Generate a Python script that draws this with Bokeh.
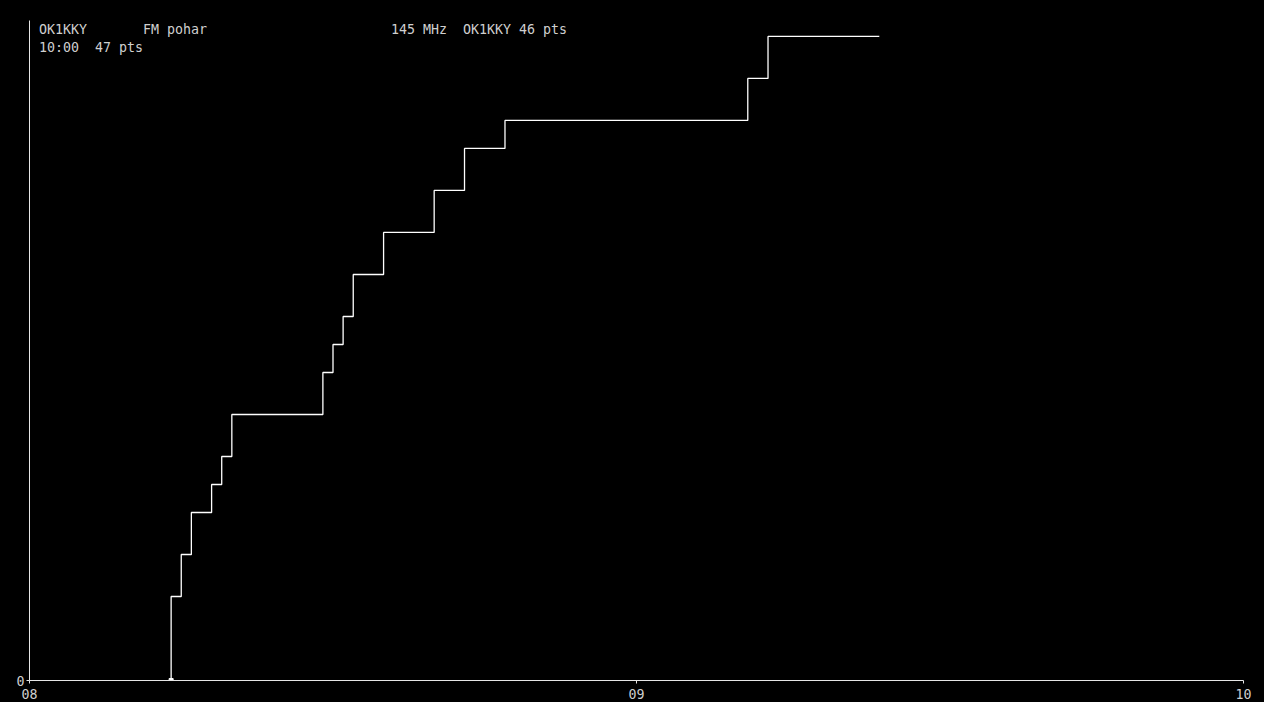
from bokeh.plotting import figure
from bokeh.models import Range1d, FixedTicker, ColumnDataSource
from bokeh.core.properties import value
from bokeh.embed import file_html
from bokeh.resources import INLINE

# QSO log: time of each contact and cumulative score after it
qso_times = ["08:14", "08:15", "08:16", "08:18", "08:19", "08:20", "08:29", "08:30",
             "08:31", "08:32", "08:35", "08:40", "08:43", "08:47", "09:11", "09:13", "09:24"]
qso_points = [6, 9, 12, 14, 16, 19, 22, 24, 26, 29, 32, 35, 38, 40, 43, 46, 46]

x_ticks = [8, 9, 10]
x_tick_labels = ["08", "09", "10"]
y_ticks = [0]

# header texts (text, column in characters)
header_line1 = [("OK1KKY", 0), ("FM pohar", 13), ("145 MHz", 44), ("OK1KKY 46 pts", 53)]
header_line2 = [("10:00", 0), ("47 pts", 7)]

FONT = "DejaVu Sans Mono"
FS = "13.3px"
TXT = "#cfcfcf"
AX = "#e6e6e6"
Y_TOP = 47.14


def to_hours(t):
    h, m = t.split(":")
    return int(h) + int(m) / 60.0


xs = [to_hours(t) for t in qso_times]
step_x = [xs[0]] + xs
step_y = [0] + qso_points

p = figure(width=1264, height=702, x_range=Range1d(8, 10), y_range=Range1d(0, Y_TOP),
           output_backend="svg", toolbar_location=None,
           background_fill_color="black", border_fill_color="black",
           min_border_left=29, min_border_right=21, min_border_top=20, min_border_bottom=22)
p.styles = {"background-color": "black"}
p.outline_line_color = "black"
p.outline_line_width = 2
p.grid.visible = False

xa = p.xaxis[0]
xa.ticker = FixedTicker(ticks=x_ticks)
xa.major_label_overrides = {t: l for t, l in zip(x_ticks, x_tick_labels)}
ya = p.yaxis[0]
ya.ticker = FixedTicker(ticks=y_ticks)
for ax in (xa, ya):
    ax.axis_line_color = AX
    ax.major_tick_line_color = AX
    ax.minor_tick_line_color = None
    ax.major_tick_in = 0
    ax.major_tick_out = 3
    ax.major_label_text_color = TXT
    ax.major_label_text_font = FONT
    ax.major_label_text_font_size = FS
xa.major_label_standoff = 5
ya.major_label_standoff = 2

p.step(step_x, step_y, mode="after", line_color="white", line_width=1.3)
p.scatter([xs[0]], [0], marker="square", size=4, color="white")

# header
hx, hy, ht, hoff_x, hoff_y = [], [], [], [], []
for row, items in enumerate([header_line1, header_line2]):
    for txt, col in items:
        hx.append(8)
        hy.append(Y_TOP)
        ht.append(txt)
        hoff_x.append(9.5 + col * 8.0)
        hoff_y.append(1 + row * 18)
src = ColumnDataSource(dict(x=hx, y=hy, text=ht, xo=hoff_x, yo=hoff_y))
p.text(x="x", y="y", text="text", x_offset="xo", y_offset="yo", source=src,
       text_font=value(FONT), text_font_size=FS, text_color=TXT,
       text_baseline="top", text_align="left")

open("out.html", "w").write(file_html(p, INLINE))
